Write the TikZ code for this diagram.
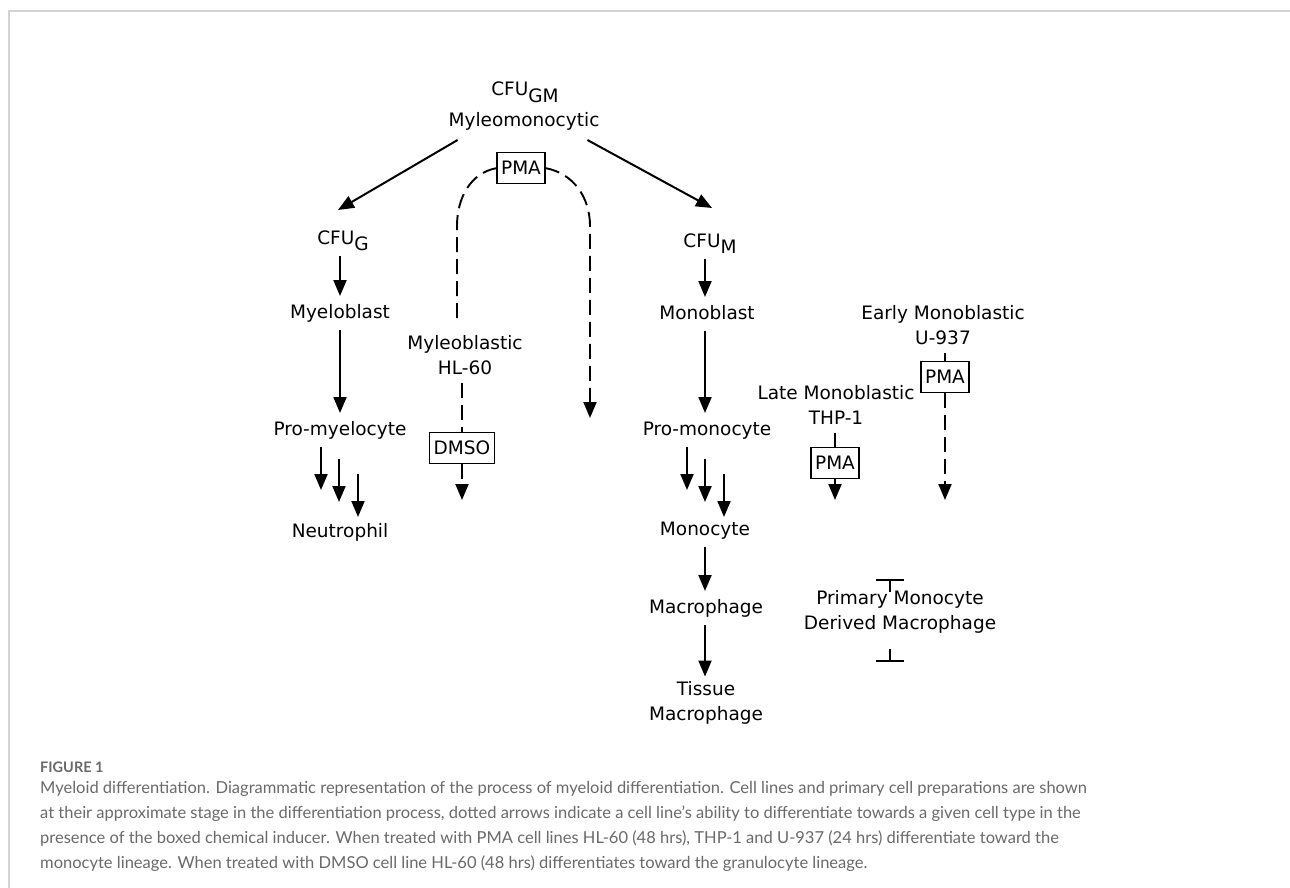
\documentclass[tikz,border=0pt]{standalone}
\usepackage{fontspec}
\setmainfont{DejaVu Sans}
\newfontfamily\capfont{Lato}
\usetikzlibrary{arrows.meta,calc}
\definecolor{captxt}{HTML}{6A6A6A}
\definecolor{framecol}{HTML}{D3D3D3}
\newcommand{\lowsub}[1]{\raisebox{-6pt}{#1}}
\begin{document}
\begin{tikzpicture}[x=1pt,y=-1pt,
  lbl/.style={font=\fontsize{18.5}{25}\selectfont, inner sep=0pt, outer sep=8pt, text height=14pt, text depth=4pt},
  lbltwo/.style={font=\fontsize{18.5}{25}\selectfont, inner sep=0pt, outer sep=8pt, align=center},
  boxed/.style={draw, line width=1.5pt, font=\fontsize{18.5}{22}\selectfont, inner xsep=4pt, inner ysep=0pt, text height=13.5pt, text depth=0pt, minimum height=31pt, outer sep=0pt},
  arr/.style={line width=2pt, -{Triangle[length=16pt,width=13pt]}},
  dsh/.style={line width=1.9pt, dash pattern=on 15pt off 7pt},
  dsharr/.style={dsh, -{Triangle[length=16pt,width=13pt]}},
  captext/.style={font=\capfont\fontsize{16.5}{20}\selectfont, text=captxt, inner sep=0pt, anchor=base west},
  brk/.style={line width=2pt},
]
\useasboundingbox (0,0) rectangle (1290,888);
\fill[white] (0,0) rectangle (1290,888);
\draw[framecol, line width=1.5pt] (9,888) -- (9,11) -- (1290,11);

% top
\node[lbl] (gm) at (525,91) {CFU\lowsub{GM}};
\node[lbl] (mymono) at (524,122) {Myleomonocytic};
\node[boxed] (pma0) at (521,168) {PMA};

% granulocyte column
\node[lbl] (cfug) at (343,239) {CFU\lowsub{G}};
\node[lbl] (myeloblast) at (340,313) {Myeloblast};
\node[lbl] (promyelo) at (340,430) {Pro-myelocyte};
\node[lbl] (neutro) at (340,532) {Neutrophil};

% HL-60
\node[lbltwo] (hl60) at (465,355) {Myleoblastic\\HL-60};
\node[boxed] (dmso) at (462,448) {DMSO};

% monocyte column
\node[lbl] (cfum) at (710,242) {CFU\lowsub{M}};
\node[lbl] (monoblast) at (707,314) {Monoblast};
\node[lbl] (promono) at (707,430) {Pro-monocyte};
\node[lbl] (monocyte) at (705,530) {Monocyte};
\node[lbl] (macro) at (706,608) {Macrophage};
\node[lbltwo] (tissue) at (706,703) {Tissue\\Macrophage};

% cell lines
\node[lbltwo] (u937) at (943,325) {Early Monoblastic\\U-937};
\node[boxed] (pma2) at (945,377) {PMA};
\node[lbltwo] (thp1) at (836,405) {Late Monoblastic\\THP-1};
\node[boxed] (pma1) at (835,463) {PMA};
\node[lbltwo] (primary) at (900,612) {Primary Monocyte\\Derived Macrophage};

% free ends
\coordinate (arcLend) at (457,320);
\coordinate (arcRend) at (590,418);
\coordinate (dmsoend) at (462,500);
\coordinate (pma1end) at (835,500);
\coordinate (pma2end) at (945,500);

% solid arrows
\draw[arr] ($(mymono.south west)+(17,1)$) -- ($(cfug.north)+(-5,-12)$);
\draw[arr] ($(mymono.south east)+(-20,1)$) -- ($(cfum.north)+(2,-17)$);
\draw[arr] (cfug.south -| myeloblast) -- (myeloblast.north);
\draw[arr] (myeloblast) -- (promyelo);
\draw[arr] ($(promyelo.south)+(-19,0)$) -- ++(0,43);
\draw[arr] ($(promyelo.south)+(-1,12)$) -- ++(0,43);
\draw[arr] ($(promyelo.south)+(18,27)$) -- ++(0,43);
\draw[arr] (cfum.south -| monoblast) ++(-2,0) -- ($(monoblast.north)+(-2,0)$);
\draw[arr] ($(monoblast.south)+(-2,0)$) -- ($(promono.north)+(-2,0)$);
\draw[arr] ($(promono.south)+(-20,0)$) -- ++(0,43);
\draw[arr] ($(promono.south)+(-2,12)$) -- ++(0,43);
\draw[arr] ($(promono.south)+(17,27)$) -- ++(0,43);
\draw[arr] (monocyte.south -| macro) ++(-1,0) -- ($(macro.north)+(-1,0)$);
\draw[arr] ($(macro.south)+(-1,0)$) -- ($(tissue.north)+(-1,3)$);

% dashed
\draw[dsh] (pma0.west) to[out=190,in=90] (457,226) -- (arcLend);
\draw[dsharr] (pma0.east) to[out=-10,in=90] (590,226) -- (arcRend);
\draw[dsh] (dmso.north |- hl60.south) -- (dmso.north);
\draw[dsharr] (dmso.south) -- (dmsoend);
\draw[dsh] (pma1.north |- thp1.south) -- (pma1.north);
\draw[dsharr] (pma1.south) -- (pma1end);
\draw[dsh] (pma2.north |- u937.south) -- (pma2.north);
\draw[dsharr] (pma2.south) -- (pma2end);

% brackets
\draw[brk] ($(primary.north)+(-24,-3)$) -- ++(28,0);
\draw[brk] ($(primary.north)+(-10,-3)$) -- ++(0,12);
\draw[brk] ($(primary.south)+(-24,20)$) -- ++(28,0);
\draw[brk] ($(primary.south)+(-10,20)$) -- ++(0,-12);

% caption
\node[captext, font=\capfont\bfseries\fontsize{14.5}{16}\selectfont] (figlab) at (40,772) {FIGURE 1};
\node[captext] (cap1) at (40,793) {Myeloid differentiation. Diagrammatic representation of the process of myeloid differentiation. Cell lines and primary cell preparations are shown};
\node[captext] (cap2) at (40,818) {at their approximate stage in the differentiation process, dotted arrows indicate a cell line’s ability to differentiate towards a given cell type in the};
\node[captext] (cap3) at (40,843) {presence of the boxed chemical inducer. When treated with PMA cell lines HL-60 (48 hrs), THP-1 and U-937 (24 hrs) differentiate toward the};
\node[captext] (cap4) at (40,868) {monocyte lineage. When treated with DMSO cell line HL-60 (48 hrs) differentiates toward the granulocyte lineage.};
\end{tikzpicture}
\end{document}
